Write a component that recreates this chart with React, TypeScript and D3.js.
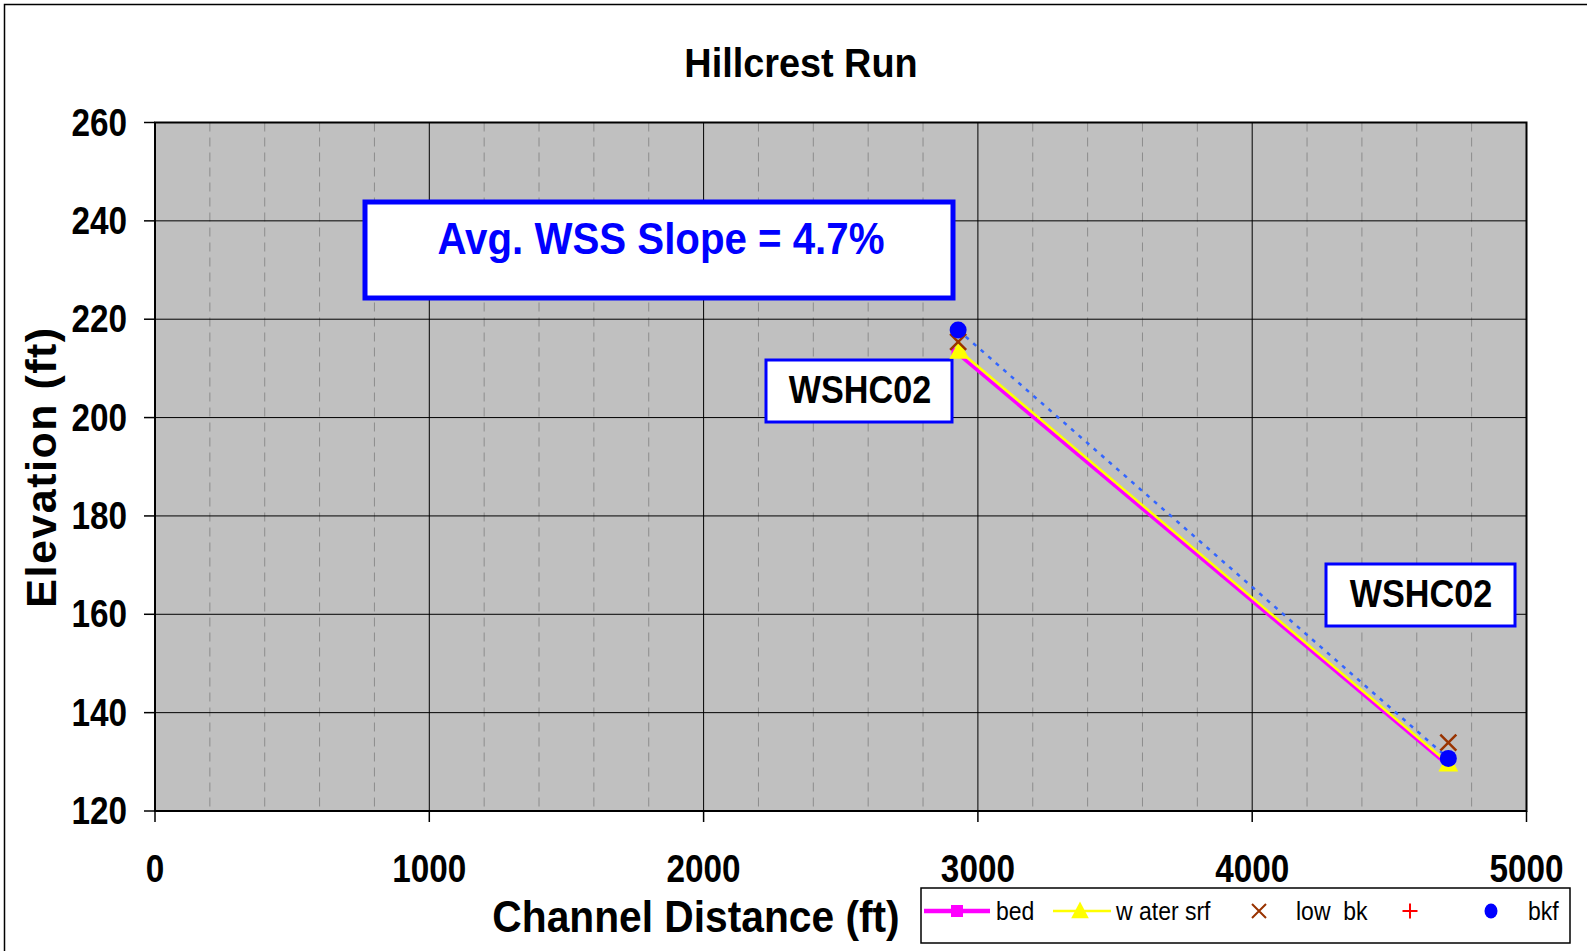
import React from "react";
import * as d3 from "d3";

const W = 1587;
const H = 951;

const xTicks = [0, 1000, 2000, 3000, 4000, 5000];
const yTicks = [120, 140, 160, 180, 200, 220, 240, 260];
const xMinor = d3.range(0, 5001, 200);

const bedX = [2922, 4713];
const bedY = [213.2, 129.3];
const waterX = [2932, 4715];
const waterY = [213.6, 129.7];
const lowBkX = [2928, 4715];
const lowBkY = [215.4, 133.9];
const plusX: number[] = [];
const plusY: number[] = [];
const bkfX = [2928, 4715];
const bkfY = [217.8, 130.7];

const title = "Hillcrest Run";
const xTitle = "Channel Distance (ft)";
const yTitle = "Elevation (ft)";
const slopeNote = "Avg. WSS Slope = 4.7%";
const siteLabels = ["WSHC02", "WSHC02"];
const legendNames = ["bed", "w ater srf", "low  bk", "", "bkf"];

const FONT = "'Liberation Sans', Arial, sans-serif";

const L = 155, R = 1526.5, T = 122.5, B = 811;

const Condensed = ({ x, y, sx = 0.9, sy = 1, anchor = "middle", size, weight = "bold", fill = "#000", children }: any) => (
  <g transform={`translate(${x},${y}) scale(${sx},${sy})`}>
    <text x={0} y={0} textAnchor={anchor} fontSize={size} fontWeight={weight} fill={fill} fontFamily={FONT} style={{ whiteSpace: "pre" }}>
      {children}
    </text>
  </g>
);

export default function App() {
  const xs = d3.scaleLinear().domain([0, 5000]).range([L, R]);
  const ys = d3.scaleLinear().domain([120, 260]).range([B, T]);
  const line = d3.line<[number, number]>().x((d) => xs(d[0])).y((d) => ys(d[1]));
  const zip = (a: number[], b: number[]) => a.map((v, i) => [v, b[i]] as [number, number]);

  const tri = (cx: number, cy: number, s: number) =>
    `M${cx},${cy - s * 0.6}L${cx + s * 0.55},${cy + s * 0.45}L${cx - s * 0.55},${cy + s * 0.45}Z`;
  const xMark = (cx: number, cy: number, s: number) =>
    `M${cx - s},${cy - s}L${cx + s},${cy + s}M${cx + s},${cy - s}L${cx - s},${cy + s}`;
  const plusMark = (cx: number, cy: number, s: number) =>
    `M${cx - s},${cy}L${cx + s},${cy}M${cx},${cy - s}L${cx},${cy + s}`;

  const ly = 911;

  return (
    <svg width={W} height={H} style={{ position: "absolute", left: 0, top: 0, display: "block", background: "#fff" }}>
      {/* outer frame */}
      <path d={`M4.5,${H + 5}L4.5,4.5L${W + 5},4.5`} fill="none" stroke="#000" strokeWidth={1.5} />

      {/* title */}
      <Condensed x={801} y={77} sx={0.97} sy={1.05} size={39}>{title}</Condensed>

      {/* plot area */}
      <rect x={L} y={T} width={R - L} height={B - T} fill="#C0C0C0" />
      {xMinor.filter((v) => v % 1000 !== 0).map((v) => (
        <line key={"m" + v} x1={xs(v)} x2={xs(v)} y1={T} y2={B} stroke="#8c8c8c" strokeWidth={1} strokeDasharray="9 6" />
      ))}
      {yTicks.map((v) => (
        <line key={"gy" + v} x1={L} x2={R} y1={ys(v)} y2={ys(v)} stroke="#000" strokeWidth={1} />
      ))}
      {xTicks.map((v) => (
        <line key={"gx" + v} x1={xs(v)} x2={xs(v)} y1={T} y2={B} stroke="#000" strokeWidth={1} />
      ))}
      <rect x={L} y={T} width={R - L} height={B - T} fill="none" stroke="#000" strokeWidth={2} />

      {/* ticks */}
      {yTicks.map((v) => (
        <line key={"ty" + v} x1={L - 11} x2={L} y1={ys(v)} y2={ys(v)} stroke="#000" strokeWidth={1.5} />
      ))}
      {xTicks.map((v) => (
        <line key={"tx" + v} x1={xs(v)} x2={xs(v)} y1={B} y2={B + 11} stroke="#000" strokeWidth={1.5} />
      ))}
      {yTicks.map((v) => (
        <Condensed key={"ly" + v} x={127} y={ys(v) + 13} sx={0.9} sy={1.04} anchor="end" size={37}>{v}</Condensed>
      ))}
      {xTicks.map((v) => (
        <Condensed key={"lx" + v} x={xs(v)} y={882} sx={0.9} sy={1.04} anchor="middle" size={37}>{v}</Condensed>
      ))}

      {/* axis titles */}
      <Condensed x={696} y={932} sx={0.97} sy={1.05} size={42}>{xTitle}</Condensed>
      <g transform={`translate(56,467) rotate(-90)`}>
        <text x={0} y={0} textAnchor="middle" fontSize={43} fontWeight="bold" fontFamily={FONT} letterSpacing={1.5}>{yTitle}</text>
      </g>

      {/* slope note */}
      <rect x={365} y={202} width={588} height={96} fill="#fff" stroke="#0000FF" strokeWidth={5} />
      <Condensed x={661} y={254} sx={0.97} sy={1.06} size={41.5} fill="#0000FF">{slopeNote}</Condensed>

      {/* site labels */}
      <rect x={766} y={360} width={186} height={62} fill="#fff" stroke="#0000FF" strokeWidth={3} />
      <Condensed x={860} y={403} sx={0.95} sy={1.08} size={36}>{siteLabels[0]}</Condensed>
      <rect x={1326} y={564} width={189} height={62} fill="#fff" stroke="#0000FF" strokeWidth={3} />
      <Condensed x={1421} y={607} sx={0.95} sy={1.08} size={36}>{siteLabels[1]}</Condensed>

      {/* series */}
      <path d={line(zip(bedX, bedY)) || ""} fill="none" stroke="#FF00FF" strokeWidth={3.5} />
      {zip(bedX, bedY).map((d, i) => (
        <rect key={"bs" + i} x={xs(d[0]) - 5} y={ys(d[1]) - 5} width={10} height={10} fill="#FF00FF" />
      ))}
      <path d={line(zip(waterX, waterY)) || ""} fill="none" stroke="#FFFF00" strokeWidth={2.5} />
      {zip(waterX, waterY).map((d, i) => (
        <path key={"ws" + i} d={tri(xs(d[0]), ys(d[1]), 18)} fill="#FFFF00" />
      ))}
      {zip(lowBkX, lowBkY).map((d, i) => (
        <path key={"lb" + i} d={xMark(xs(d[0]), ys(d[1]), 8)} stroke="#993300" strokeWidth={2.5} fill="none" />
      ))}
      {zip(plusX, plusY).map((d, i) => (
        <path key={"pl" + i} d={plusMark(xs(d[0]), ys(d[1]), 7)} stroke="#FF0000" strokeWidth={2.5} fill="none" />
      ))}
      <path d={line(zip(bkfX, bkfY)) || ""} fill="none" stroke="#3366FF" strokeWidth={2.5} strokeDasharray="4 6" />
      {zip(bkfX, bkfY).map((d, i) => (
        <circle key={"bk" + i} cx={xs(d[0])} cy={ys(d[1])} r={8.5} fill="#0000FF" />
      ))}

      {/* legend */}
      <rect x={921} y={888} width={649} height={55} fill="#fff" stroke="#000" strokeWidth={1.5} />
      <line x1={924} x2={990} y1={ly} y2={ly} stroke="#FF00FF" strokeWidth={4.5} />
      <rect x={951} y={ly - 6} width={12} height={12} fill="#FF00FF" />
      <Condensed x={996} y={ly + 9} sx={0.92} sy={1.05} anchor="start" size={25} weight="normal">{legendNames[0]}</Condensed>
      <line x1={1053} x2={1111} y1={ly} y2={ly} stroke="#FFFF00" strokeWidth={2.5} />
      <path d={tri(1080, ly, 16)} fill="#FFFF00" />
      <Condensed x={1116} y={ly + 9} sx={0.92} sy={1.05} anchor="start" size={25} weight="normal">{legendNames[1]}</Condensed>
      <path d={xMark(1259, ly, 7)} stroke="#993300" strokeWidth={2} fill="none" />
      <Condensed x={1296} y={ly + 9} sx={0.92} sy={1.05} anchor="start" size={25} weight="normal">{legendNames[2]}</Condensed>
      <path d={plusMark(1410, ly, 7.5)} stroke="#FF0000" strokeWidth={2} fill="none" />
      <Condensed x={1440} y={ly + 9} sx={0.92} anchor="start" size={25} weight="normal">{legendNames[3]}</Condensed>
      <ellipse cx={1491} cy={ly} rx={6.5} ry={7.5} fill="#0000FF" />
      <Condensed x={1528} y={ly + 9} sx={0.92} sy={1.05} anchor="start" size={25} weight="normal">{legendNames[4]}</Condensed>
    </svg>
  );
}
